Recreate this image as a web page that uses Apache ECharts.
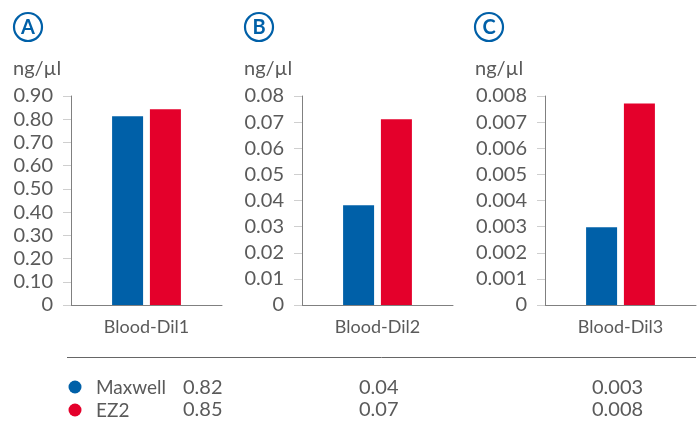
<!DOCTYPE html>
<html>
<head>
<meta charset="utf-8">
<script src="https://cdn.jsdelivr.net/npm/echarts@6/dist/echarts.min.js"></script>
<style>html,body{margin:0;padding:0;background:#fff}#c{width:700px;height:421px}</style>
</head>
<body>
<div id="c"></div>
<script>
// ---- data ----
var categories = ['Blood-Dil1', 'Blood-Dil2', 'Blood-Dil3'];
var panelLetters = ['A', 'B', 'C'];
var seriesNames = ['Maxwell', 'EZ2'];
var maxwellValues = [0.813, 0.0382, 0.00298];
var ez2Values = [0.843, 0.0711, 0.00771];
var yMaxes = [0.9, 0.08, 0.008];
var yIntervals = [0.1, 0.01, 0.001];
var yDecimals = [2, 2, 3];
var maxwellLabels = ['0.82', '0.04', '0.003'];
var ez2Labels = ['0.85', '0.07', '0.008'];
var unitLabel = 'ng/µl';

// ---- style ----
var BLUE = '#0060a8', RED = '#e4002b', TXT = '#5a5a5a';
var FONT = 'Lato, "Open Sans", sans-serif';
var gridLefts = [71, 302, 545];
var gridW = 151;
var circleX = [28, 259, 489];
var unitX = [13, 244, 475];
var tableX = [183, 359, 592];

var grids = [], xAxes = [], yAxes = [], series = [], graphics = [];
for (var i = 0; i < 3; i++) {
  grids.push({left: gridLefts[i], top: 96, width: gridW, height: 209});
  xAxes.push({
    type: 'category', gridIndex: i, data: [categories[i]],
    axisLine: {lineStyle: {color: '#808080', width: 1}},
    axisTick: {show: false},
    axisLabel: {color: TXT, fontSize: 18, fontFamily: FONT, margin: 13}
  });
  (function (d) {
    yAxes.push({
      type: 'value', gridIndex: i, min: 0, max: yMaxes[i], interval: yIntervals[i],
      axisLine: {show: true, lineStyle: {color: '#808080', width: 1}},
      axisTick: {show: true, length: 8, lineStyle: {color: '#cfcfcf', width: 1}},
      splitLine: {show: false},
      axisLabel: {
        color: TXT, fontSize: 20, fontFamily: FONT, margin: 18,
        formatter: function (v) { return v === 0 ? '0' : v.toFixed(d); }
      }
    });
  })(yDecimals[i]);
  series.push({
    name: seriesNames[0], type: 'bar', xAxisIndex: i, yAxisIndex: i,
    data: [maxwellValues[i]], barWidth: 31, barGap: '22%',
    itemStyle: {color: BLUE}, silent: true
  });
  series.push({
    name: seriesNames[1], type: 'bar', xAxisIndex: i, yAxisIndex: i,
    data: [ez2Values[i]], barWidth: 31, barGap: '22%',
    itemStyle: {color: RED}, silent: true
  });
  graphics.push({
    type: 'circle', shape: {cx: circleX[i], cy: 27, r: 14},
    style: {fill: '#fff', stroke: BLUE, lineWidth: 2.2}
  });
  graphics.push({
    type: 'text', x: circleX[i], y: 28,
    style: {text: panelLetters[i], fill: BLUE, font: 'bold 20px ' + FONT, align: 'center', verticalAlign: 'middle'}
  });
  graphics.push({
    type: 'text', x: unitX[i], y: 69,
    style: {text: unitLabel, fill: TXT, font: '20px ' + FONT, align: 'left', verticalAlign: 'middle'}
  });
  graphics.push({
    type: 'text', x: tableX[i], y: 388,
    style: {text: maxwellLabels[i], fill: TXT, font: '20px ' + FONT, align: 'left', verticalAlign: 'middle'}
  });
  graphics.push({
    type: 'text', x: tableX[i], y: 410,
    style: {text: ez2Labels[i], fill: TXT, font: '20px ' + FONT, align: 'left', verticalAlign: 'middle'}
  });
}
// table
graphics.push({type: 'line', shape: {x1: 67, y1: 357.5, x2: 696, y2: 357.5}, style: {stroke: '#666', lineWidth: 1}});
var rowY = [387, 410], rowColors = [BLUE, RED];
for (var r = 0; r < 2; r++) {
  graphics.push({type: 'circle', shape: {cx: 75, cy: rowY[r], r: 6.5}, style: {fill: rowColors[r]}});
  graphics.push({
    type: 'text', x: 96, y: rowY[r] + 1,
    style: {text: seriesNames[r], fill: TXT, font: '19px ' + FONT, align: 'left', verticalAlign: 'middle'}
  });
}

var chart = echarts.init(document.getElementById('c'), null, {renderer: 'canvas'});
chart.setOption({
  animation: false,
  backgroundColor: '#fff',
  grid: grids, xAxis: xAxes, yAxis: yAxes, series: series,
  graphic: graphics
});
</script>
</body>
</html>
